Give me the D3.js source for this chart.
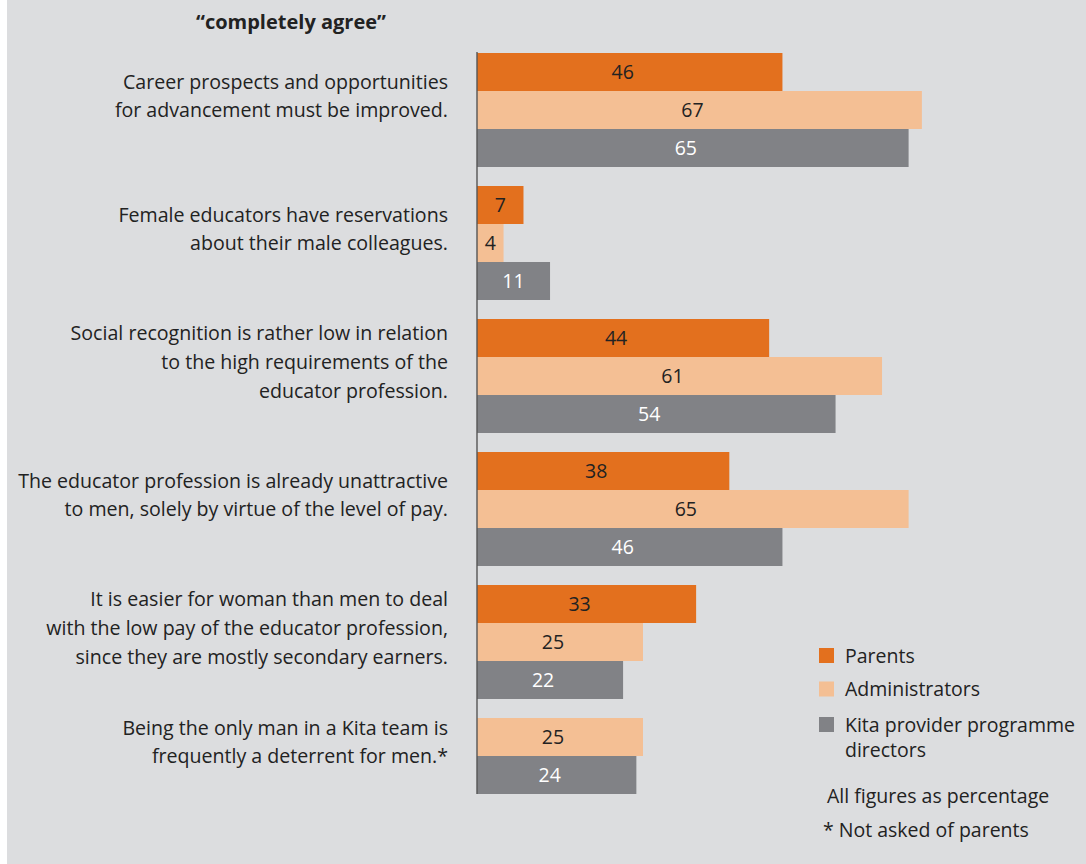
<!DOCTYPE html>
<html>
<head>
<meta charset="utf-8">
<script src="https://cdn.jsdelivr.net/npm/d3@7"></script>
<style>
  html, body { margin: 0; padding: 0; background: #ffffff; }
  svg { display: block; }
  text { font-family: "Open Sans", sans-serif; }
</style>
</head>
<body>
<svg id="chart" width="1086" height="864"></svg>
<script>
// ---- data ----
const title = "\u201Ccompletely agree\u201D";
const categories = [
  ["Career prospects and opportunities", "for advancement must be improved."],
  ["Female educators have reservations", "about their male colleagues."],
  ["Social recognition is rather low in relation", "to the high requirements of the", "educator profession."],
  ["The educator profession is already unattractive", "to men, solely by virtue of the level of pay."],
  ["It is easier for woman than men to deal", "with the low pay of the educator profession,", "since they are mostly secondary earners."],
  ["Being the only man in a Kita team is", "frequently a deterrent for men.*"]
];
const seriesNames = ["Parents", "Administrators", "Kita provider programme directors"];
const legendLines = [["Parents"], ["Administrators"], ["Kita provider programme", "directors"]];
const parents        = [46, 7, 44, 38, 33, null];
const administrators = [67, 4, 61, 65, 25, 25];
const directors      = [65, 11, 54, 46, 22, 24];
const notes = ["All figures as percentage", "* Not asked of parents"];

// ---- styles ----
const colors = ["#e3701e", "#f4bf94", "#818286"];
const labelColors = ["#222222", "#222222", "#ffffff"];
const bg = "#dcdddf";

const svg = d3.select("#chart");
svg.append("rect").attr("x", 7).attr("y", 0).attr("width", 1079).attr("height", 864).attr("fill", bg);

const seriesValues = [parents, administrators, directors];
const data = categories.map((c, i) => ({
  lines: c,
  bars: seriesValues.map((vals, s) => ({ s, v: vals[i] })).filter(d => d.v !== null)
}));

const x = d3.scaleLinear().domain([0, 100]).range([477, 477 + 664]);
const y = d3.scaleBand().domain(d3.range(categories.length)).range([53, 832]).paddingInner(19 / 133).paddingOuter(0);
const slot = y.bandwidth() / 3;

// title
svg.append("text").attr("x", 291).attr("y", 22).attr("dy", "0.36em").attr("text-anchor", "middle")
  .attr("font-size", 20).attr("font-weight", "bold").attr("fill", "#222").text(title);

const groups = svg.selectAll("g.grp").data(data).join("g").attr("class", "grp")
  .attr("transform", (d, i) => `translate(0,${y(i)})`);

groups.selectAll("rect").data(d => d.bars).join("rect")
  .attr("x", x(0))
  .attr("y", (d, j) => j * slot)
  .attr("width", d => x(d.v) - x(0))
  .attr("height", slot)
  .attr("fill", d => colors[d.s]);

groups.selectAll("text.val").data(d => d.bars).join("text").attr("class", "val")
  .attr("x", d => (x(0) + x(d.v)) / 2 - (d.v > 20 ? 7 : 0))
  .attr("y", (d, j) => j * slot + slot / 2)
  .attr("dy", "0.36em")
  .attr("text-anchor", "middle")
  .attr("font-size", 19.5)
  .attr("fill", d => labelColors[d.s])
  .text(d => d.v);

// category labels
const lineH = 28.7;
groups.each(function (d) {
  const g = d3.select(this);
  const center = d.bars.length * slot / 2 - 14;
  const n = d.lines.length;
  g.selectAll("text.cat").data(d.lines).join("text").attr("class", "cat")
    .attr("x", 448)
    .attr("y", (l, k) => center + (k - (n - 1) / 2) * lineH)
    .attr("dy", "0.36em")
    .attr("text-anchor", "end")
    .attr("font-size", 19.6)
    .attr("fill", "#222")
    .text(l => l);
});

// axis line
svg.append("line").attr("x1", x(0)).attr("x2", x(0)).attr("y1", 52).attr("y2", 794)
  .attr("stroke", "#555").attr("stroke-width", 1.4);

// legend
const legY = [655.5, 689, 724.5];
const leg = svg.selectAll("g.leg").data(seriesNames).join("g").attr("class", "leg")
  .attr("transform", (d, i) => `translate(819,${legY[i]})`);
leg.append("rect").attr("x", 0).attr("y", -7.5).attr("width", 15).attr("height", 15)
  .attr("fill", (d, i) => colors[i]);
leg.each(function (d, i) {
  d3.select(this).selectAll("text").data(legendLines[i]).join("text")
    .attr("x", 26).attr("y", (l, k) => k * 25).attr("dy", "0.36em")
    .attr("font-size", 19.5).attr("fill", "#222").text(l => l);
});

svg.selectAll("text.note").data(notes).join("text").attr("class", "note")
  .attr("x", (d, i) => i === 0 ? 827 : 823)
  .attr("y", (d, i) => [796, 830][i])
  .attr("dy", "0.36em")
  .attr("font-size", 19.5).attr("fill", "#222").text(d => d);
</script>
</body>
</html>
